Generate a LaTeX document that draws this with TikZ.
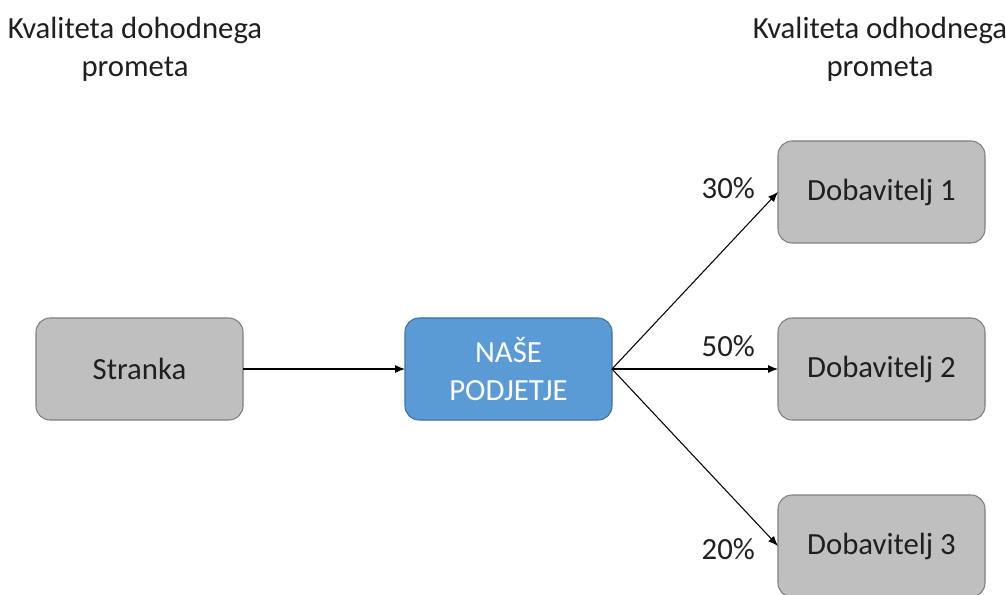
\documentclass[tikz,border=0pt]{standalone}
\usepackage{fontspec}
\setmainfont{Carlito}
\usepackage{xcolor}
\usepackage{tikz}
\usetikzlibrary{arrows.meta,positioning}
\definecolor{boxgrey}{HTML}{BFBFBF}
\definecolor{boxline}{HTML}{7F7F7F}
\definecolor{firmblue}{HTML}{5B9BD5}
\definecolor{firmline}{HTML}{41719C}

\begin{document}
\begin{tikzpicture}[
        font=\fontsize{17.5}{21.6}\selectfont,
        box/.style={draw=boxline,line width=0.6pt,rounded corners=8pt,fill=boxgrey,
                    minimum width=4.14cm,minimum height=2.04cm,align=center,
                    outer sep=0pt,text=black!88},
        firm/.style={box,draw=firmline,fill=firmblue,text=white},
        pct/.style={text=black!88,inner sep=1pt},
        hdr/.style={align=center,text=black!88}
      ]
        \useasboundingbox (0,0) rectangle (20.12,-11.9);
        \node[hdr] (hin) at (2.7,-0.98) {Kvaliteta dohodnega\\prometa};
        \node[hdr] (hout) at (17.6,-0.98) {Kvaliteta odhodnega\\prometa};
        \node[box] (stranka) at (2.79,-7.38) {Stranka};
        \node[firm,right=3.24cm of stranka] (firm) {NAŠE\\PODJETJE};
        \node[box,right=3.32cm of firm] (dob2) {Dobavitelj 2};
        \node[box,above=1.5cm of dob2] (dob1) {Dobavitelj 1};
        \node[box,below=1.5cm of dob2] (dob3) {Dobavitelj 3};
        \node[pct,left=0.42cm of dob1,yshift=2pt] (p1) {30\%};
        \node[pct,above left=0.46cm and 0.42cm of dob2.west,anchor=east] (p2) {50\%};
        \node[pct,left=0.42cm of dob3,yshift=-1.5pt] (p3) {20\%};
        \draw[-{Latex[length=2mm,width=1.6mm]},line width=0.6pt] (stranka) -- (firm);
        \draw[-{Latex[length=2mm,width=1.6mm]},line width=0.6pt] (firm.east) -- (dob1.west);
        \draw[-{Latex[length=2mm,width=1.6mm]},line width=0.6pt] (firm.east) -- (dob2.west);
        \draw[-{Latex[length=2mm,width=1.6mm]},line width=0.6pt] (firm.east) -- (dob3.west);
      \end{tikzpicture}
\end{document}
